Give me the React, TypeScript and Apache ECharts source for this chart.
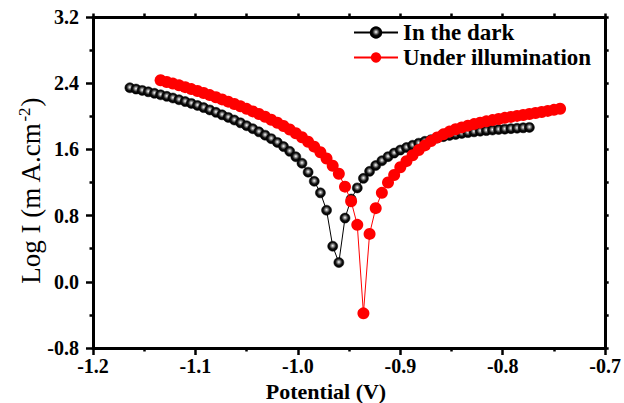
import React, { useEffect, useRef } from "react";
import * as echarts from "echarts";

const darkPotential = [
  -1.164, -1.158, -1.152, -1.146, -1.14, -1.134, -1.128, -1.122, -1.116, -1.11,
  -1.104, -1.098, -1.092, -1.086, -1.08, -1.074, -1.068, -1.062, -1.056, -1.05,
  -1.044, -1.038, -1.032, -1.026, -1.02, -1.014, -1.008, -1.002, -0.996, -0.99,
  -0.984, -0.978, -0.972, -0.966, -0.96, -0.954, -0.948, -0.942, -0.936, -0.93,
  -0.924, -0.918, -0.912, -0.906, -0.9, -0.894, -0.888, -0.882, -0.876, -0.87,
  -0.864, -0.858, -0.852, -0.846, -0.84, -0.834, -0.828, -0.822, -0.816, -0.81,
  -0.804, -0.798, -0.792, -0.786, -0.78, -0.774,
];
const darkLogI = [
  2.345, 2.329, 2.313, 2.296, 2.278, 2.26, 2.241, 2.221, 2.2, 2.178,
  2.156, 2.131, 2.105, 2.077, 2.048, 2.018, 1.987, 1.955, 1.921, 1.886,
  1.85, 1.812, 1.772, 1.73, 1.684, 1.634, 1.577, 1.511, 1.433, 1.325,
  1.215, 1.075, 0.865, 0.43, 0.233, 0.77, 1.0, 1.135, 1.25, 1.335,
  1.405, 1.463, 1.512, 1.555, 1.592, 1.623, 1.65, 1.675, 1.698, 1.718,
  1.737, 1.754, 1.769, 1.78, 1.793, 1.803, 1.812, 1.82, 1.827, 1.834,
  1.84, 1.845, 1.851, 1.856, 1.861, 1.866,
];
const lightPotential = [
  -1.134, -1.128, -1.122, -1.116, -1.11, -1.104, -1.098, -1.092, -1.086, -1.08,
  -1.074, -1.068, -1.062, -1.056, -1.05, -1.044, -1.038, -1.032, -1.026, -1.02,
  -1.014, -1.008, -1.002, -0.996, -0.99, -0.984, -0.978, -0.972, -0.966, -0.96,
  -0.954, -0.948, -0.942, -0.936, -0.93, -0.924, -0.918, -0.912, -0.906, -0.9,
  -0.894, -0.888, -0.882, -0.876, -0.87, -0.864, -0.858, -0.852, -0.846, -0.84,
  -0.834, -0.828, -0.822, -0.816, -0.81, -0.804, -0.798, -0.792, -0.786, -0.78,
  -0.774, -0.768, -0.762, -0.756, -0.75, -0.744,
];
const lightLogI = [
  2.435, 2.415, 2.395, 2.374, 2.352, 2.329, 2.305, 2.281, 2.256, 2.23,
  2.204, 2.177, 2.149, 2.12, 2.09, 2.059, 2.027, 1.994, 1.959, 1.922,
  1.883, 1.841, 1.796, 1.747, 1.693, 1.633, 1.566, 1.49, 1.403, 1.305,
  1.15, 0.974, 0.688, -0.381, 0.579, 0.89, 1.075, 1.2, 1.29, 1.385,
  1.458, 1.53, 1.592, 1.648, 1.7, 1.745, 1.782, 1.815, 1.843, 1.866,
  1.887, 1.906, 1.923, 1.939, 1.954, 1.968, 1.981, 1.993, 2.005, 2.016,
  2.027, 2.04, 2.052, 2.065, 2.078, 2.092,
];

const seriesNames = ["In the dark", "Under illumination"];
const xTitle = "Potential (V)";

const FONT = "'Liberation Serif', 'Times New Roman', serif";

export default function App() {
  const ref = useRef<HTMLDivElement>(null);
  useEffect(() => {
    if (!ref.current) return;
    const chart = echarts.init(ref.current, null, { renderer: "svg" });
    const darkData = darkPotential.map((v, i) => [v, darkLogI[i]]);
    const lightData = lightPotential.map((v, i) => [v, lightLogI[i]]);
    const sphere = {
      type: "radial",
      x: 0.5,
      y: 0.45,
      r: 0.5,
      colorStops: [
        { offset: 0, color: "#ffffff" },
        { offset: 0.3, color: "#8c8c8c" },
        { offset: 0.65, color: "#111111" },
        { offset: 1, color: "#000000" },
      ],
    };
    const mainTick = { show: true, inside: false, length: 7, lineStyle: { color: "#000", width: 2.5 } };
    const minor = { show: true, splitNumber: 2, length: 3.5, lineStyle: { color: "#000", width: 2.5 } };
    const smallTick = { show: true, inside: false, length: 3.5, lineStyle: { color: "#000", width: 2.5 } };
    const line = { show: true, onZero: false, lineStyle: { color: "#000", width: 3 } };
    chart.setOption({
      animation: false,
      backgroundColor: "#ffffff",
      grid: { left: 93, right: 17, top: 17, bottom: 55, containLabel: false },
      legend: {
        orient: "vertical",
        left: 348,
        top: 16,
        itemWidth: 44,
        itemHeight: 13,
        itemGap: 2,
        data: seriesNames,
        textStyle: { fontFamily: FONT, fontWeight: "bold", fontSize: 23, color: "#000" },
      },
      xAxis: [
        {
          type: "value",
          min: -1.2,
          max: -0.7,
          interval: 0.1,
          axisLine: line,
          axisTick: mainTick,
          minorTick: minor,
          splitLine: { show: false },
          axisLabel: {
            margin: 8,
            fontFamily: FONT,
            fontWeight: "bold",
            fontSize: 20,
            color: "#000",
            formatter: (v: number) => v.toFixed(1),
          },
        },
        {
          type: "value",
          position: "top",
          min: -1.2,
          max: -0.7,
          interval: 0.1,
          axisLine: line,
          axisTick: smallTick,
          minorTick: minor,
          splitLine: { show: false },
          axisLabel: { show: false },
        },
      ],
      yAxis: [
        {
          type: "value",
          min: -0.8,
          max: 3.2,
          interval: 0.8,
          axisLine: line,
          axisTick: mainTick,
          minorTick: minor,
          splitLine: { show: false },
          axisLabel: {
            margin: 14,
            fontFamily: FONT,
            fontWeight: "bold",
            fontSize: 20,
            color: "#000",
            formatter: (v: number) => v.toFixed(1),
          },
        },
        {
          type: "value",
          position: "right",
          min: -0.8,
          max: 3.2,
          interval: 0.8,
          axisLine: line,
          axisTick: smallTick,
          minorTick: minor,
          splitLine: { show: false },
          axisLabel: { show: false },
        },
      ],
      graphic: [
        {
          type: "text",
          x: 326,
          y: 391,
          style: {
            text: xTitle,
            fontFamily: FONT,
            fontWeight: "bold",
            fontSize: 22,
            fill: "#000",
            textAlign: "center",
            textVerticalAlign: "middle",
          },
        },
        {
          type: "text",
          x: 31,
          y: 191,
          rotation: Math.PI / 2,
          style: {
            text: "{a|Log I (m A.cm}{s|-2}{a|)}",
            textAlign: "center",
            textVerticalAlign: "middle",
            rich: {
              a: { fontFamily: FONT, fontSize: 27, fill: "#000", lineHeight: 30 },
              s: { fontFamily: FONT, fontSize: 17, fill: "#000", lineHeight: 30, verticalAlign: "top", padding: [0, 1, 10, 1] },
            },
          },
        },
      ],
      series: [
        {
          name: seriesNames[0],
          type: "line",
          data: darkData,
          symbol: "circle",
          symbolSize: 10,
          showSymbol: true,
          itemStyle: { color: sphere, borderColor: "#000", borderWidth: 0.5 },
          lineStyle: { color: "#000", width: 1 },
          z: 2,
        },
        {
          name: seriesNames[1],
          type: "line",
          data: lightData,
          symbol: "circle",
          symbolSize: 12,
          showSymbol: true,
          itemStyle: { color: "#ff0000" },
          lineStyle: { color: "#ff0000", width: 1 },
          z: 3,
        },
      ],
    });
    return () => chart.dispose();
  }, []);
  return (
    <div
      ref={ref}
      style={{ position: "fixed", left: 0, top: 0, width: 624, height: 403, background: "#fff" }}
    />
  );
}
